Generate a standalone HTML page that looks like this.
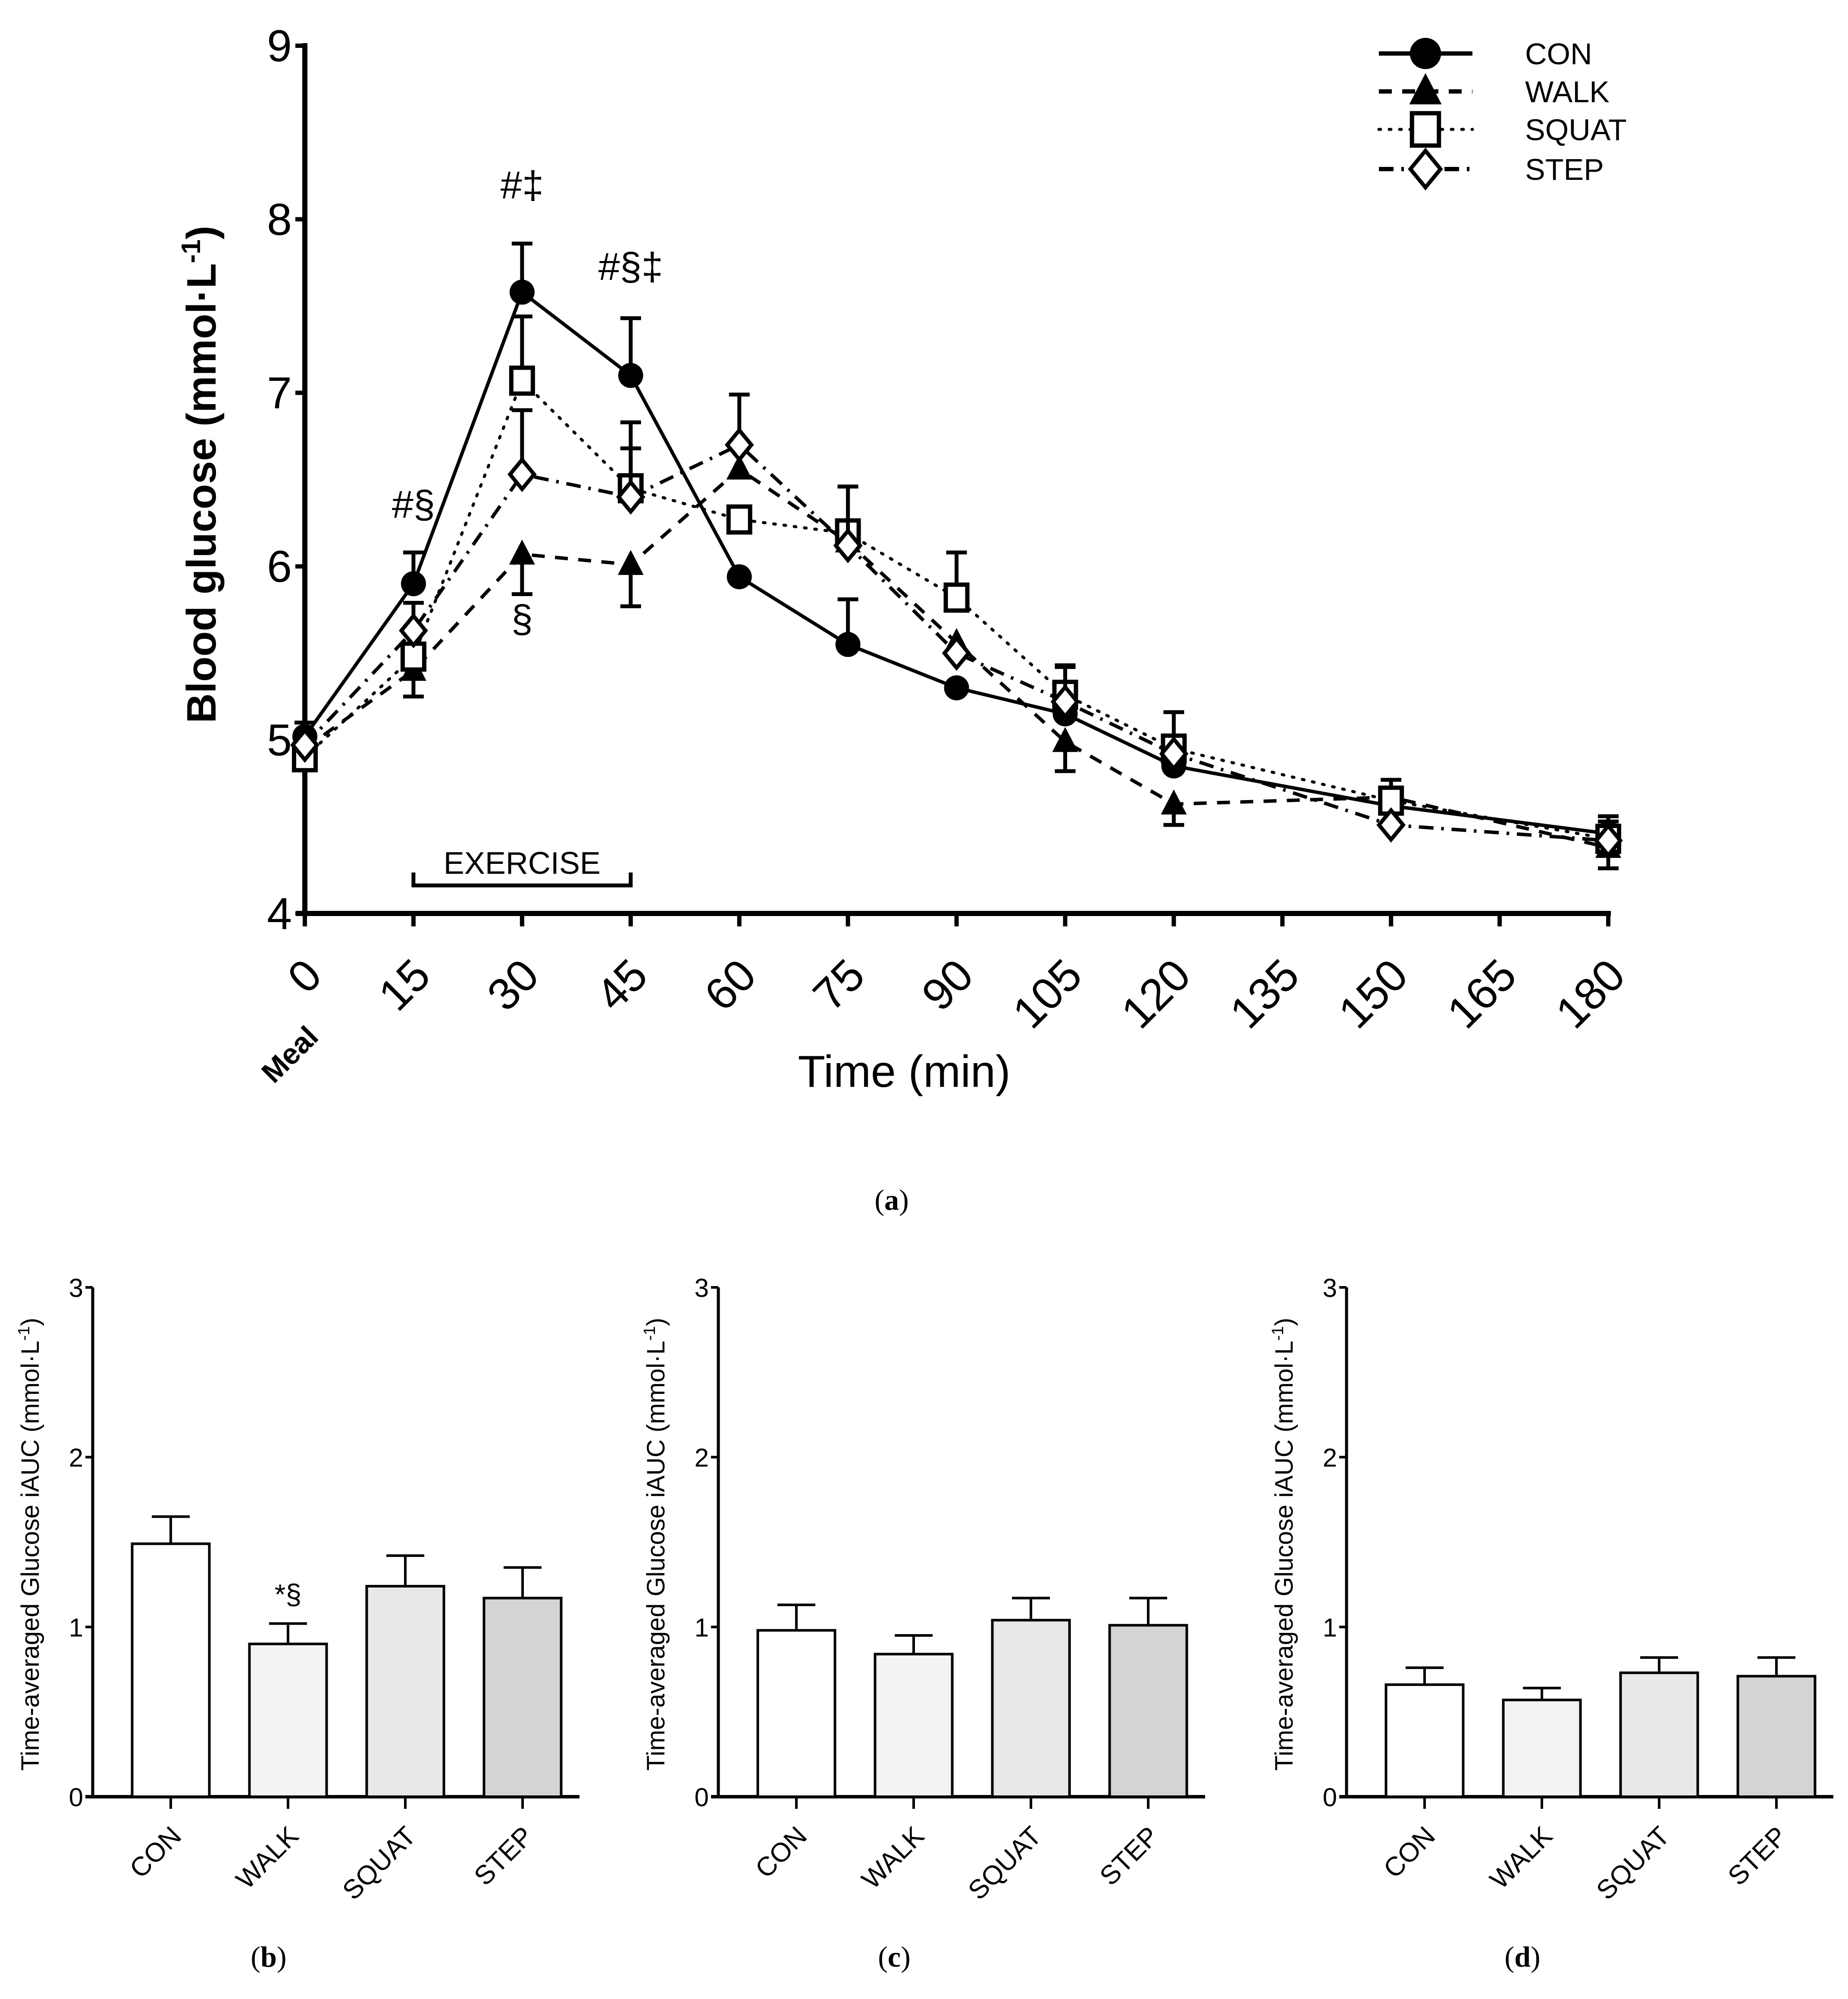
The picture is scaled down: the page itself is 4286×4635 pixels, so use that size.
<!DOCTYPE html>
<html><head><meta charset="utf-8"><style>
html,body{margin:0;padding:0;background:#fff}
svg{display:block}
text{font-family:"Liberation Sans",sans-serif;fill:#000}
.cap{font-family:"Liberation Serif",serif}
</style></head><body>
<svg id="fig" width="4286" height="4635" viewBox="0 0 4286 4635" xmlns="http://www.w3.org/2000/svg"></svg>
<script>
// ---- Panel (a) data ----
const times = [0,15,30,45,60,75,90,105,120,150,180];
const xTicks = [0,15,30,45,60,75,90,105,120,135,150,165,180];
const yTicksA = [4,5,6,7,8,9];
const conVals   = [5.02,5.90,7.58,7.10,5.94,5.55,5.30,5.15,4.85,4.62,4.46];
const conErr    = [0.08,0.18,0.28,0.33,0.00,0.26,0.00,0.10,0.10,0.05,0.10];
const walkVals  = [4.95,5.40,6.07,6.01,6.56,6.14,5.56,4.99,4.63,4.67,4.38];
const walkErr   = [-0.08,-0.15,-0.23,-0.24,0.00,0.00,0.00,-0.17,-0.12,0.00,-0.12];
const squatVals = [4.90,5.48,7.07,6.45,6.27,6.19,5.82,5.26,4.95,4.65,4.43];
const squatErr  = [0.00,0.00,0.37,0.23,0.00,0.27,0.26,0.17,0.21,0.12,0.10];
const stepVals  = [4.97,5.63,6.53,6.40,6.70,6.12,5.50,5.22,4.92,4.51,4.42];
const stepErr   = [0.00,0.16,0.37,0.43,0.29,0.34,0.00,0.20,0.00,0.00,0.00];
// ---- Panels (b)(c)(d) data ----
const groups = ["CON","WALK","SQUAT","STEP"];
const yTicksB = [0,1,2,3];
const bVals = [1.49,0.90,1.24,1.17];
const bErr  = [0.16,0.12,0.18,0.18];
const cVals = [0.98,0.84,1.04,1.01];
const cErr  = [0.15,0.11,0.13,0.16];
const dVals = [0.66,0.57,0.73,0.71];
const dErr  = [0.10,0.07,0.09,0.11];

const NS="http://www.w3.org/2000/svg";
const svg=document.getElementById('fig');
function el(tag,attrs,parent,txt){const e=document.createElementNS(NS,tag);for(const k in attrs)e.setAttribute(k,attrs[k]);if(txt!==undefined)e.textContent=txt;(parent||svg).appendChild(e);return e;}

// ---- Panel A axes ----
const AX0=707, AX1=3730, AY4=2118, AY9=106;
const xA=t=>AX0+(AX1-AX0)*t/180;
const yA=v=>AY4-(AY4-AY9)*(v-4)/5;
const gA=el('g',{});


let a=el('line',{x1:AX0,y1:AY9-6,x2:AX0,y2:AY4+6,stroke:'#000','stroke-width':12},gA);

a=el('line',{x1:AX0-20,y1:AY4,x2:AX1+6,y2:AY4,stroke:'#000','stroke-width':12},gA);

yTicksA.forEach(v=>{
  el('line',{x1:AX0-22,y1:yA(v),x2:AX0,y2:yA(v),stroke:'#000','stroke-width':10},gA);
  const t=el('text',{x:AX0-30,y:yA(v)+36,'text-anchor':'end','font-size':104},gA,String(v));
  
});
xTicks.forEach(v=>{
  el('line',{x1:xA(v),y1:AY4,x2:xA(v),y2:AY4+30,stroke:'#000','stroke-width':10},gA);
  const t=el('text',{x:0,y:0,'text-anchor':'end','font-size':104,transform:`translate(${xA(v)+45},${AY4+150}) rotate(-45)`},gA,String(v));
  
});
let t=el('text',{x:0,y:0,'text-anchor':'end','font-size':68,'font-weight':'bold',transform:`translate(${AX0+35},${AY4+290}) rotate(-45)`},gA,'Meal');

t=el('text',{x:2097,y:2520,'text-anchor':'middle','font-size':104},gA,'Time (min)');

t=el('text',{x:0,y:0,'text-anchor':'middle','font-size':96,'font-weight':'bold',transform:`translate(500,1100) rotate(-90)`},gA);

t.innerHTML='Blood glucose (mmol·L<tspan dy="-36" font-size="62">-1</tspan><tspan dy="36">)</tspan>';
// exercise bracket
a=el('path',{d:`M${xA(15)} ${AY4-95} V${AY4-65} H${xA(45)} V${AY4-95}`,fill:'none',stroke:'#000','stroke-width':9},gA);

t=el('text',{x:xA(30),y:AY4-92,'text-anchor':'middle','font-size':72},gA,'EXERCISE');

// significance marks
[[15,6.28,'#§'],[30,8.12,'#‡'],[45,7.65,'#§‡'],[30,5.62,'§']].forEach(([tt,v,s])=>{
  const m=el('text',{x:xA(tt),y:yA(v),'text-anchor':'middle','font-size':90,'font-family':'Liberation Serif, serif'},gA,s);
  
});

const series=[
 {name:'CON',vals:conVals,err:conErr,dash:'',marker:'circle'},
 {name:'WALK',vals:walkVals,err:walkErr,dash:'30 24',marker:'tri'},
 {name:'SQUAT',vals:squatVals,err:squatErr,dash:'4 20',marker:'square'},
 {name:'STEP',vals:stepVals,err:stepErr,dash:'34 18 6 18',marker:'diamond'}
];
function marker(g,type,x,y,k){
  k=k||1;let m;
  if(type==='circle')m=el('circle',{cx:x,cy:y,r:29*k,fill:'#000'},g);
  else if(type==='tri')m=el('path',{d:`M${x} ${y-34*k} L${x+30*k} ${y+24*k} L${x-30*k} ${y+24*k}Z`,fill:'#000'},g);
  else if(type==='square')m=el('rect',{x:x-25*k,y:y-30*k,width:50*k,height:60*k,fill:'#fff',stroke:'#000','stroke-width':10},g);
  else m=el('path',{d:`M${x} ${y-34*k} L${x+28*k} ${y} L${x} ${y+34*k} L${x-28*k} ${y}Z`,fill:'#fff',stroke:'#000','stroke-width':9},g);
  return m;
}
series.forEach(s=>{
  const g=el('g',{},gA);
  
  
  s.vals.forEach((v,i)=>{
    if(s.err[i]!==0){
      const y1=yA(v),y2=yA(v+s.err[i]);
      const e=el('path',{d:`M${xA(times[i])} ${y1} V${y2} M${xA(times[i])-24} ${y2} H${xA(times[i])+24}`,stroke:'#000','stroke-width':9,fill:'none'},g);
      
    }
  });
  const l=el('polyline',{points:s.vals.map((v,i)=>xA(times[i])+','+yA(v)).join(' '),fill:'none',stroke:'#000','stroke-width':s.marker==='square'?7:8,'stroke-dasharray':s.dash,'stroke-linecap':s.marker==='square'?'round':'butt'},g);
  
  s.vals.forEach((v,i)=>{const m=marker(g,s.marker,xA(times[i]),yA(v));});
});
// legend
const legY=[124,212,300,392];
series.forEach((s,i)=>{
  const g=el('g',{},gA);
  
  
  el('line',{x1:3198,y1:legY[i],x2:3415,y2:legY[i],stroke:'#000','stroke-width':s.marker==='square'?7:10,'stroke-dasharray':s.dash,'stroke-linecap':s.marker==='square'?'round':'butt'},g);
  marker(g,s.marker,3306,legY[i],1.25);
  el('text',{x:3537,y:legY[i]+25,'font-size':70},g,s.name);
});
t=el('text',{x:2068,y:2805,'text-anchor':'middle','font-size':68,'class':'cap'},svg);
t.innerHTML='(<tspan font-weight="bold">a</tspan>)';


// ---- Bar panels ----
const BY0=4166, BY3=2985;
const yB=v=>BY0-(BY0-BY3)*v/3;
const fills=['#ffffff','#f3f3f3','#e8e8e8','#d4d4d4'];
function barPanel(ox,vals,errs,letter,star){
  const g=el('g',{});
  
  
  const axX=ox;
  let e=el('line',{x1:axX,y1:BY3,x2:axX,y2:BY0,stroke:'#000','stroke-width':7},g);
  
  e=el('line',{x1:axX-17,y1:BY0,x2:axX+1129,y2:BY0,stroke:'#000','stroke-width':8},g);
  
  yTicksB.forEach(v=>{
    el('line',{x1:axX-17,y1:yB(v),x2:axX,y2:yB(v),stroke:'#000','stroke-width':6},g);
    const tt=el('text',{x:axX-22,y:yB(v)+22,'text-anchor':'end','font-size':60},g,String(v));
    
  });
  const tl=el('text',{x:0,y:0,'text-anchor':'middle','font-size':58,transform:`translate(${axX-125},${(BY0+BY3)/2+5}) rotate(-90)`},g);
  tl.innerHTML='Time-averaged Glucose iAUC (mmol·L<tspan dy="-22" font-size="38">-1</tspan><tspan dy="22">)</tspan>';
  
  groups.forEach((gname,i)=>{
    const cx=axX+181+272*i, w=179;
    const r=el('rect',{x:cx-w/2,y:yB(vals[i]),width:w,height:BY0-yB(vals[i]),fill:fills[i],stroke:'#000','stroke-width':6},g);
    
    const eb=el('path',{d:`M${cx} ${yB(vals[i])} V${yB(vals[i]+errs[i])} M${cx-44} ${yB(vals[i]+errs[i])} H${cx+44}`,stroke:'#000','stroke-width':6,fill:'none'},g);
    
    el('line',{x1:cx,y1:BY0,x2:cx,y2:BY0+28,stroke:'#000','stroke-width':6},g);
    const lab=el('text',{x:0,y:0,'text-anchor':'end','font-size':62,transform:`translate(${cx+28},${BY0+95}) rotate(-45)`},g,gname);
    
    if(star && i===1){
      const s=el('text',{x:cx,y:yB(vals[i]+errs[i])-45,'text-anchor':'middle','font-size':66},g,'*§');
      
    }
  });
  const c=el('text',{x:axX+408,y:4560,'text-anchor':'middle','font-size':68,'class':'cap'},g);
  c.innerHTML='(<tspan font-weight="bold">'+letter+'</tspan>)';
  
}
barPanel(215,bVals,bErr,'b',true);
barPanel(1666,cVals,cErr,'c',false);
barPanel(3123,dVals,dErr,'d',false);
</script>
</body></html>
